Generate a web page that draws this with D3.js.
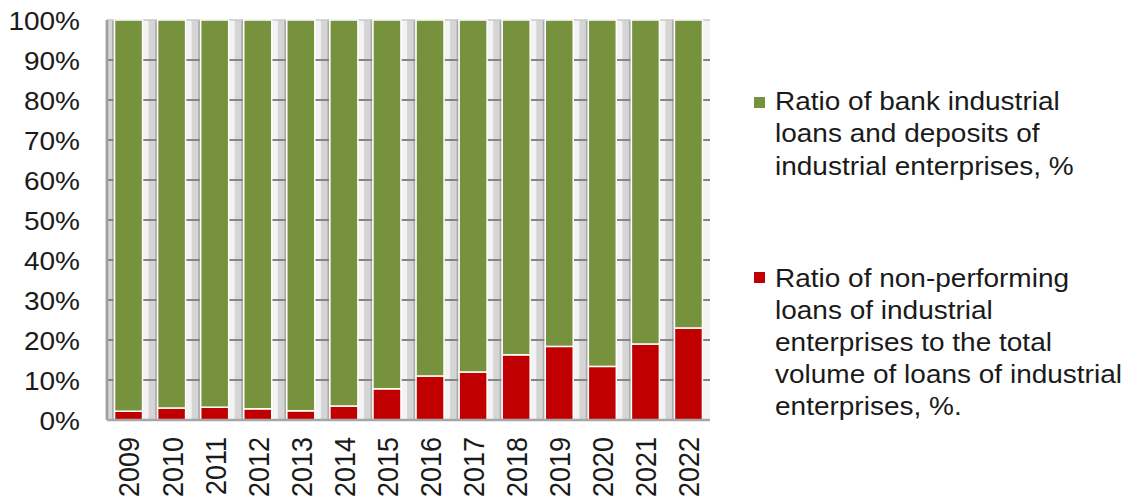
<!DOCTYPE html>
<html>
<head>
<meta charset="utf-8">
<script src="https://cdn.jsdelivr.net/npm/d3@7"></script>
<style>
  body { margin: 0; background: #fff; }
  text { font-family: "Liberation Sans", Arial, sans-serif; fill: #1a1a1a; }
</style>
</head>
<body>
<svg id="chart" width="1129" height="501"></svg>
<script>
// data
var years = ["2009","2010","2011","2012","2013","2014","2015","2016","2017","2018","2019","2020","2021","2022"];
var npl = [2.2, 3.0, 3.2, 2.8, 2.3, 3.5, 7.8, 11, 12, 16.3, 18.4, 13.4, 19, 23];
var loansDeposits = [97.8, 97.0, 96.8, 97.2, 97.7, 96.5, 92.2, 89, 88, 83.7, 81.6, 86.6, 81, 77];
var yTicks = [0, 10, 20, 30, 40, 50, 60, 70, 80, 90, 100];
var legendLines1 = ["Ratio of bank industrial", "loans and deposits of", "industrial enterprises, %"];
var legendLines2 = ["Ratio of non-performing", "loans of industrial", "enterprises to the total", "volume of loans of industrial", "enterprises, %."];

(function(d3) {
  var svg = d3.select("#chart");
  var left = 107, right = 710, top = 20, bottom = 420;
  var sx = 1.12; // the picture is a bit stretched sideways

  var x = d3.scaleBand().domain(years).range([left, right]).paddingInner(0.35).paddingOuter(0.175);
  var y = d3.scaleLinear().domain([0, 100]).range([bottom, top]);

  var green = "#76923c", red = "#c00000";

  // plot background with the grey 3d-ish stripes
  svg.append("rect").attr("x", left).attr("y", top).attr("width", right - left).attr("height", bottom - top)
    .attr("fill", "#f3f3f3");
  var bw = x.bandwidth();
  svg.selectAll(".stripe").data(years).enter().append("rect")
    .attr("class", "stripe")
    .attr("x", function(d) { return x(d) - 9; })
    .attr("y", top).attr("width", 7).attr("height", bottom - top)
    .attr("fill", "#d5d5d5");
  svg.selectAll(".stripe2").data(years).enter().append("rect")
    .attr("class", "stripe2")
    .attr("x", function(d) { return x(d) - 2.5; })
    .attr("y", top).attr("width", 2).attr("height", bottom - top)
    .attr("fill", "#ababab");

  // gridlines
  svg.append("g").selectAll("line").data(yTicks.slice(1, -1)).enter().append("line")
    .attr("x1", left).attr("x2", right)
    .attr("y1", function(d) { return y(d); }).attr("y2", function(d) { return y(d); })
    .attr("stroke", "#858585").attr("stroke-width", 2);
  svg.append("line").attr("x1", left).attr("x2", right).attr("y1", top).attr("y2", top)
    .attr("stroke", "#c8c8c8").attr("stroke-width", 1.5);

  // bars
  var stack = d3.stack().keys(["npl", "ld"]);
  var rows = years.map(function(yr, i) { return {year: yr, npl: npl[i], ld: loansDeposits[i]}; });
  var series = stack(rows);
  var colors = [red, green];
  svg.append("g").selectAll("g").data(series).enter().append("g")
    .attr("fill", function(d, i) { return colors[i]; })
    .selectAll("rect").data(function(d) { return d; }).enter().append("rect")
      .attr("x", function(d) { return x(d.data.year); })
      .attr("y", function(d) { return y(d[1]); })
      .attr("width", bw)
      .attr("height", function(d) { return y(d[0]) - y(d[1]); })
      .attr("stroke", "#fff").attr("stroke-width", 1.5);

  // axes lines
  svg.append("line").attr("x1", left).attr("x2", left).attr("y1", top).attr("y2", bottom)
    .attr("stroke", "#a0a0a0").attr("stroke-width", 2.5);
  svg.append("line").attr("x1", left).attr("x2", right).attr("y1", bottom).attr("y2", bottom)
    .attr("stroke", "#a6a6a6").attr("stroke-width", 2.5);

  // y axis labels
  var yAxis = svg.append("g").attr("transform", "translate(" + left + ",0)")
    .call(d3.axisLeft(y).tickValues(yTicks).tickFormat(function(d) { return d + "%"; }).tickSize(0));
  yAxis.select(".domain").remove();
  yAxis.selectAll("text")
    .attr("x", -27 / sx).attr("dy", "0.36em")
    .attr("transform", "scale(" + sx + ",1)")
    .style("font-size", "25px").style("fill", "#1a1a1a")
    .style("font-family", "'Liberation Sans', Arial, sans-serif");

  // x axis labels, rotated
  svg.append("g").selectAll("text").data(years).enter().append("text")
    .attr("transform", function(d) {
      return "translate(" + (x(d) + bw / 2) + ",437) scale(" + sx + ",1) rotate(-90)";
    })
    .attr("text-anchor", "end").attr("dy", "0.36em")
    .style("font-size", "27px")
    .text(function(d) { return d; });

  // legend
  var legends = [
    {color: green, lines: legendLines1, sqY: 97, base: 110, step: 32.5},
    {color: red, lines: legendLines2, sqY: 272, base: 287, step: 32}
  ];
  legends.forEach(function(l) {
    svg.append("rect").attr("x", 754).attr("y", l.sqY).attr("width", 11).attr("height", 11).attr("fill", l.color);
    var t = svg.append("text").attr("transform", "translate(775," + l.base + ") scale(" + sx + ",1)")
      .style("font-size", "25px");
    t.selectAll("tspan").data(l.lines).enter().append("tspan")
      .attr("x", 0).attr("y", function(d, i) { return i * l.step; })
      .text(function(d) { return d; });
  });
})(window.d3);
</script>
</body>
</html>
